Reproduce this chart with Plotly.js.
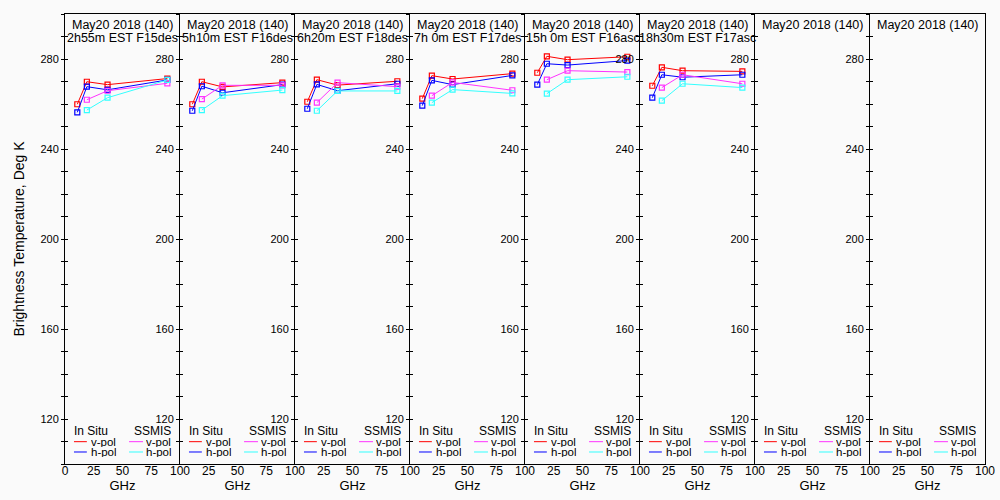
<!DOCTYPE html>
<html><head><meta charset="utf-8">
<script src="https://cdn.plot.ly/plotly-3.0.1.min.js"></script>
<style>html,body{margin:0;padding:0;background:#fafafa}</style>
</head><body><div id="chart" style="width:1000px;height:500px"></div>
<script>
// ---- data ----
const inSituFreq = [10.7, 19, 37, 89];
const ssmisFreq = [19, 37, 89];
const titleLine1 = ["May20 2018 (140)", "May20 2018 (140)", "May20 2018 (140)", "May20 2018 (140)",
                    "May20 2018 (140)", "May20 2018 (140)", "May20 2018 (140)", "May20 2018 (140)"];
const titleLine2 = ["2h55m EST F15des", "5h10m EST F16des", "6h20m EST F18des", "7h 0m EST F17des",
                    "15h 0m EST F16asc", "18h30m EST F17asc", "", ""];
const inSituV = [
  [259.9, 269.9, 268.6, 271.3],
  [259.9, 269.9, 267.6, 269.5],
  [261.0, 270.8, 268.4, 270.1],
  [262.4, 272.6, 271.1, 273.5],
  [273.9, 281.2, 279.7, 281.0],
  [268.1, 276.3, 274.8, 274.5],
  [], []
];
const inSituH = [
  [256.3, 267.7, 266.3, 270.7],
  [257.0, 267.9, 265.0, 268.6],
  [257.9, 268.7, 265.9, 269.0],
  [259.3, 270.5, 268.6, 272.7],
  [268.6, 277.9, 277.3, 279.3],
  [262.8, 273.0, 271.9, 273.0],
  [], []
];
const ssmisV = [
  [261.9, 265.9, 269.2],
  [262.2, 268.3, 268.3],
  [260.6, 269.5, 267.7],
  [263.7, 269.6, 266.1],
  [270.8, 274.8, 274.2],
  [267.3, 273.0, 269.0],
  [], []
];
const ssmisH = [
  [257.3, 262.8, 270.7],
  [257.3, 263.7, 266.2],
  [257.0, 265.8, 265.8],
  [260.6, 266.4, 264.7],
  [264.6, 270.8, 272.1],
  [261.5, 269.0, 267.3],
  [], []
];
const yTickVals = [120, 160, 200, 240, 280];
const xTickVals = [0, 25, 50, 75, 100];
const legendHeaders = ["In Situ", "SSMIS"];
const legendRows = ["v-pol", "h-pol"];

// ---- styling ----
const FONT = "Liberation Sans, Arial, sans-serif";
const cRed = "#ff0000", cBlue = "#0000ff", cMag = "#ff33ff", cCyan = "#33ffff";
const nP = 8;
const traces = [];
const layout = {
  width: 1000, height: 500,
  margin: {l: 65, r: 15, t: 14, b: 36},
  paper_bgcolor: "#fafafa", plot_bgcolor: "#fafafa",
  font: {family: FONT, size: 11, color: "#000"},
  showlegend: false,
  annotations: [], shapes: []
};
function sfx(i) { return i === 0 ? "" : String(i + 1); }

const series = [
  {data: inSituV, fx: inSituFreq, color: cRed},
  {data: inSituH, fx: inSituFreq, color: cBlue},
  {data: ssmisV, fx: ssmisFreq, color: cMag},
  {data: ssmisH, fx: ssmisFreq, color: cCyan}
];

for (let i = 0; i < nP; i++) {
  const xs = sfx(i), ys = sfx(i);
  const ov = String(nP + i + 1);
  layout["xaxis" + xs] = {
    domain: [i / nP, (i + 1) / nP], range: [0, 100], anchor: "y" + ys,
    tickmode: "array", tickvals: i === 0 ? xTickVals : xTickVals.slice(1),
    ticks: "", showline: true, mirror: true, linecolor: "#000", linewidth: 1,
    showgrid: false, zeroline: false, tickfont: {size: 12}, ticklabelstandoff: -4,
    title: {text: "GHz", font: {size: 13}, standoff: 0}
  };
  layout["yaxis" + ys] = {
    domain: [0, 1], range: [100, 300], anchor: "x" + xs,
    tickmode: "array", tickvals: yTickVals,
    ticks: "outside", ticklen: 3, tickcolor: "#000",
    minor: {tick0: 100, dtick: 10, ticks: "outside", ticklen: 3, tickcolor: "#000"},
    showline: true, mirror: i === nP - 1, linecolor: "#000", linewidth: 1,
    showgrid: false, zeroline: false, tickfont: {size: 11}
  };
  if (i === 0) {
    layout.yaxis.title = {text: "Brightness Temperature, Deg K", font: {size: 14}, standoff: 12};
  }
  // overlay axis for inward tick halves
  layout["yaxis" + ov] = {
    overlaying: "y" + ys, anchor: "x" + xs, range: [100, 300],
    tickmode: "array", tickvals: yTickVals, showticklabels: false,
    ticks: "inside", ticklen: 3, tickcolor: "#000",
    minor: {tick0: 100, dtick: 10, ticks: "inside", ticklen: 3, tickcolor: "#000"},
    showline: false, showgrid: false, zeroline: false
  };
  traces.push({x: [], y: [], xaxis: "x" + xs, yaxis: "y" + ov, type: "scatter", hoverinfo: "skip"});

  series.forEach(s => {
    traces.push({
      type: "scatter", mode: "lines+markers",
      x: s.data[i].length ? s.fx : [], y: s.data[i],
      xaxis: "x" + xs, yaxis: "y" + ys,
      line: {color: s.color, width: 1},
      marker: {symbol: "square-open", size: 5, color: s.color, line: {width: 1.2, color: s.color}},
      cliponaxis: false
    });
  });

  const xr = "x" + xs + " domain";
  layout.annotations.push({xref: xr, yref: "paper", x: 0.5, y: 0.9756, xanchor: "center", yanchor: "middle",
    text: titleLine1[i], showarrow: false, font: {size: 12.5}});
  if (titleLine2[i]) {
    layout.annotations.push({xref: xr, yref: "paper", x: 0.5, y: 0.9467, xanchor: "center", yanchor: "middle",
      text: titleLine2[i], showarrow: false, font: {size: 12.5}});
  }
  // legend
  const hx = [0.223, 0.765];
  legendHeaders.forEach((h, k) => {
    layout.annotations.push({xref: xr, yref: "paper", x: hx[k], y: 0.0735, xanchor: "center", yanchor: "middle",
      text: h, showarrow: false, font: {size: 12}, height: 10});
  });
  const rowY = [0.0496, 0.0267];
  const lineX = [[0.078, 0.19], [0.557, 0.678]];
  const txtX = [0.21, 0.69];
  const cols = [[cRed, cBlue], [cMag, cCyan]];
  for (let k = 0; k < 2; k++) {
    for (let r = 0; r < 2; r++) {
      layout.shapes.push({type: "line", xref: xr, yref: "paper",
        x0: lineX[k][0], x1: lineX[k][1], y0: rowY[r], y1: rowY[r],
        line: {color: cols[k][r], width: 1}});
      layout.annotations.push({xref: xr, yref: "paper", x: txtX[k], y: rowY[r], xanchor: "left", yanchor: "middle",
        text: legendRows[r], showarrow: false, font: {size: 11.5}, height: 10});
    }
  }
}

Plotly.newPlot("chart", traces, layout, {displayModeBar: false, staticPlot: true});
</script>
</body></html>
